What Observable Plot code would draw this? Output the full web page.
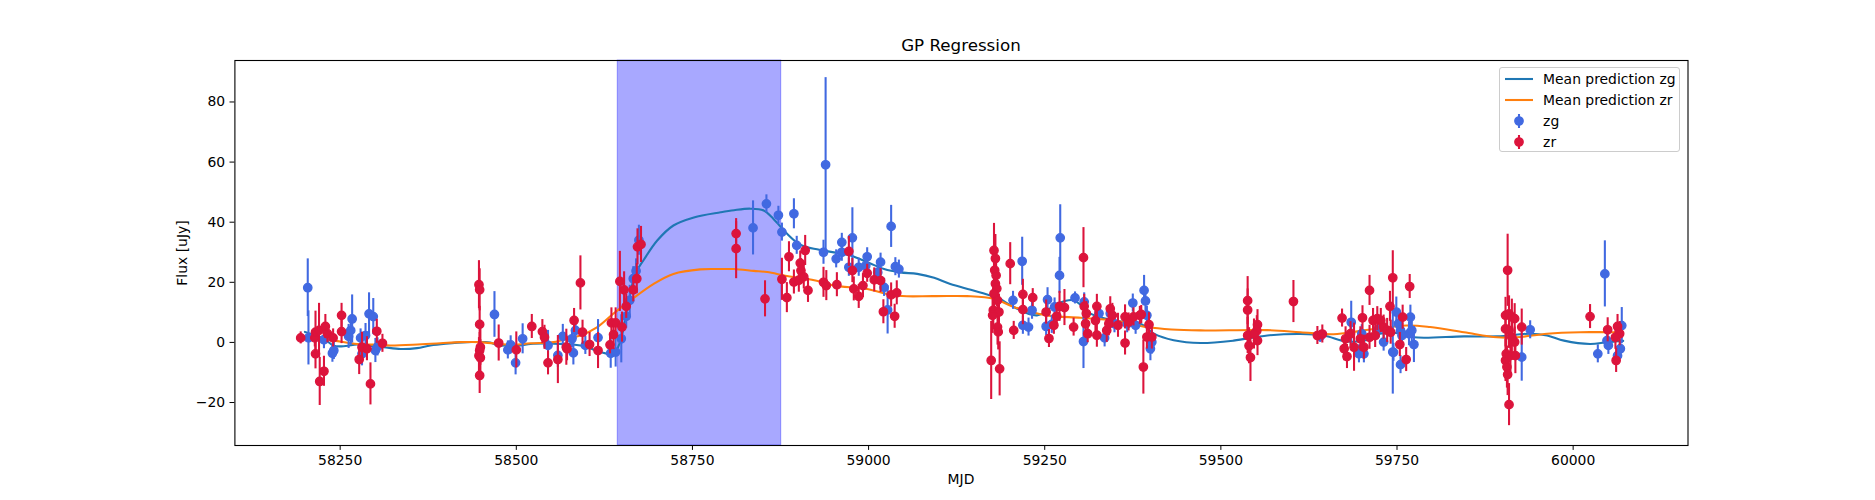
<!DOCTYPE html>
<html>
<head>
<meta charset="utf-8">
<script src="https://cdn.jsdelivr.net/npm/d3@7"></script>
<script src="https://cdn.jsdelivr.net/npm/@observablehq/plot@0.6"></script>
<style>
  body { margin: 0; background: #fff; }
  #wrap { position: relative; width: 1875px; height: 500px; font-family: "DejaVu Sans", sans-serif; color: #000; }
  #wrap svg { display: block; }
  .title { position: absolute; left: 234.4px; width: 1453.1px; top: 35px; line-height: 20px; text-align: center; font-size: 16.7px; }
  .xlabel { position: absolute; left: 234.4px; width: 1453.1px; top: 471px; line-height: 17px; text-align: center; font-size: 13.9px; }
  .ylabel { position: absolute; left: 181.8px; top: 252.5px; font-size: 13.9px; line-height: 17px; white-space: nowrap; transform: translate(-50%, -50%) rotate(-90deg); }
  .legend { position: absolute; left: 1498.6px; top: 67px; width: 181px; height: 85px; box-sizing: border-box; border: 1px solid #cccccc; border-radius: 3px; background: rgba(255,255,255,0.8); font-size: 13.9px; }
  .legend .row { position: absolute; left: 0; height: 18px; line-height: 18px; }
  .legend .row svg { position: absolute; left: 4px; top: -3px; }
  .legend .row span { position: absolute; left: 43.5px; white-space: nowrap; }
</style>
</head>
<body>
<div id="wrap"></div>
<script>
// ---- data ----
const xTicks = [58250, 58500, 58750, 59000, 59250, 59500, 59750, 60000];
const yTicks = [-20, 0, 20, 40, 60, 80];
const spanMJD = [58644, 58876];

const zgMJD = [58204,58205,58227,58241,58239,58262,58265,58267,58279,58286,58291,58297,58300,58303,58281,
  58469,58492,58488,58499,58509,58545,58559,58566,58579,58581,58584,58598,58616,58634,58641,58649,58656,58661,58666,58670,58674,
  58836,58855,58872,58877,58894,58898,
  58939,58936,58954,58962,58962,58977,58972,58986,58996,58998,59013,59017,59022,59027,59032,59038,59043,
  59205,59218,59219,59227,59232,59254,59252,59260,59264,59272,59271,59293,59306,59305,59327,59335,59343,59349,59375,59367,59379,59391,59393,59395,59400,59402,
  59641,59685,59696,59703,59700,59724,59731,59744,59749,59752,59755,59755,59745,59769,59767,59771,59774,59757,
  59927,59939,60035,60045,60048,60050,60069,60067,60063];
const zgFlux = [18.2,1.5,0.9,-2.7,-3.6,2.0,4.0,7.8,1.5,2.3,9.5,8.6,-2.7,-1.5,-3.8,
  9.3,-0.8,-2.5,-6.8,1.2,-1.0,-4.3,2.0,1.2,-3.5,4.0,-1.0,1.6,-3.6,-3.2,1.2,8.7,14.0,21.2,23.8,34.0,
  38.1,46.1,42.3,36.7,42.8,32.3,
  59.1,30.0,27.8,33.3,30.0,34.8,25.0,25.0,25.5,28.5,23.3,26.7,18.3,10.8,38.6,25.2,24.4,
  14.0,27.0,5.7,5.1,10.7,14.2,5.3,6.0,11.8,34.8,22.3,14.8,13.5,0.3,9.6,1.5,9.6,6.2,13.1,6.2,5.7,17.3,13.8,9.0,-2.1,0.1,
  2.0,6.7,-3.8,-3.8,2.9,4.5,0.1,-3.2,10.1,6.2,4.0,-7.4,-3.3,8.4,2.9,4.0,-0.7,2.3,
  -4.9,4.2,-3.8,22.8,0.6,-1.0,5.6,-2.1,-4.4];
const zgErr = [9.6,9,3,3,3,4,5,8,3,4,7,6,4,3,4,
  7.6,3,3,4,5,5,4,4,3,4,3,3,6,5,5,8,4,5,4,4,5,
  9,3,3,3,5,3,
  29,4,3,3,3,10,3,3,3,3,3,3,3,8,7,3,3,
  3,8,3,3,3,4,3,3,3,11,6,2,3,9,3,3,3,3,3,3,3,5,4,3,4,4,
  2,7,3,3,3,3,3,14,5,3,3,3,3,4,4,4,6,3,
  8,3,3,11,3,3,6,3,3];

const zrMJD = [58194,58214,58215,58215,58220,58221,58227,58229,58232,58240,58252,58252,58277,58281,58288,58293,58302,58310,
  58447,58448,58448,58449,58448,58447,58449,58448,
  58475,58500,58522,58537,58540,58545,58559,58571,58572,58582,58591,58594,58604,58616,58633,58635,58641,58638,58650,58656,58647,58653,58666,58671,58672,58677,
  58812,58812,58853,58877,58884,58887,58894,58901,58903,58904,58908,58910,58914,
  58936,58940,58955,58972,58977,58979,58986,58992,58998,59008,59017,59021,59032,59037,59040,
  59174,59178,59180,59179,59181,59180,59182,59178,59183,59177,59185,59176,59183,59184,59186,
  59201,59206,59219,59219,59233,59252,59256,59263,59267,59271,59278,59291,59305,59306,59309,59308,59311,59324,59322,59324,59338,59343,59346,59341,59354,59364,59364,59369,59376,59385,59387,59390,59398,59395,59402,
  59538,59538,59538,59540,59542,59552,59551,59552,59547,59603,59637,59644,
  59672,59677,59675,59679,59684,59689,59698,59703,59701,59711,59716,59722,59727,59731,59736,59741,59711,59719,59744,59740,59754,59763,59758,59768,
  59904,59907,59909,59913,59917,59904,59909,59905,59904,59906,59907,59911,59918,59909,59917,59913,59927,
  60024,60049,60063,60066,60060,60061];
const zrFlux = [1.5,1.5,3.4,-3.8,4.0,-13.0,-9.6,5.3,2.9,1.5,9.0,3.6,-5.7,-1.6,-2.1,-13.8,3.7,-0.3,
  19.2,17.5,6.0,-1.6,-2.7,-4.4,-5.1,-11.0,
  -0.2,-2.5,5.3,3.6,1.7,-6.8,-5.7,-1.6,-2.1,7.3,19.8,3.4,-0.7,-2.7,-0.8,6.5,6.5,2.6,5.1,12.0,20.3,17.5,17.5,21.2,31.8,32.6,
  36.2,31.2,14.5,21.0,14.9,28.5,20.1,20.7,26.4,23.9,21.8,30.6,17.3,
  20.0,18.9,19.2,30.3,23.9,17.8,15.3,18.9,23.0,20.8,20.6,10.2,15.8,8.7,16.5,
  -6.0,30.6,27.9,24.0,22.3,19.5,17.9,16.2,14.0,10.7,10.1,9.0,5.1,3.5,-8.8,
  26.2,4.0,16.0,10.9,14.9,10.1,1.3,5.7,8.7,12.0,11.6,5.1,28.2,12.0,9.6,6.2,2.9,12.0,7.3,2.4,4.0,11.2,9.0,6.2,5.7,-0.2,8.5,6.8,8.5,9.0,9.3,-8.2,5.9,1.8,1.8,
  13.9,10.8,2.3,-1.1,-5.0,5.9,3.9,0.6,2.8,13.6,2.3,2.8,
  8.1,1.2,-2.1,-4.7,2.9,-1.6,1.2,-1.6,8.2,17.3,7.3,7.9,7.3,5.1,4.0,3.4,1.7,2.3,21.5,12.0,-0.7,-5.7,8.4,18.6,
  9.0,24.0,9.5,8.4,7.9,4.5,4.0,-3.8,-6.0,-8.2,-10.7,-4.4,-4.4,-20.7,0.1,1.7,5.1,
  8.6,4.2,5.3,2.9,1.7,-6.0];
const zrErr = [2,3,7,5,9,8,5,4,3,3,4,4,5,5,4,7,4,3,
  8,7,6,6,6,6,6,6,
  6,6,4,4,4,4,8,6,4,4,9,4,4,6,3,5,5,5,5,4,10,6,4,5,6,6,
  4,10,6,7,5,5,4,4,4,4,4,5,4,
  5,5,4,5,4,4,4,4,3,4,4,4,4,4,4,
  13,9,8,8,7,7,6,6,6,6,6,6,6,6,9,
  7,3,5,5,3,4,3,3,3,5,6,3,10,4,4,4,3,4,4,4,4,4,4,4,4,4,4,3,3,3,3,9,4,4,4,
  8,7,6,6,8,5,5,5,5,7,3,3,
  3,4,4,4,4,8,4,4,4,5,4,4,4,4,4,4,4,4,9,5,4,4,4,4,
  6,12,6,6,5,6,6,7,7,7,7,6,6,7,5,5,6,
  4,4,4,4,4,4];

const zgCurveMJD = [58200,58227,58241,58258,58274,58295,58312,58336,58359,58378,58400,58430,58449,58463,58473,58490,58506,58520,58553,58580,58600,58619,58638,58648,58657,58669,58681,58700,58723,58752,58790,58809,58832,58851,58865,58884,58903,58930,58974,59000,59022,59045,59069,59093,59116,59145,59173,59182,59206,59239,59268,59291,59315,59348,59386,59405,59433,59471,59518,59566,59613,59646,59679,59708,59726,59755,59774,59845,59892,59939,59963,59987,60024,60048,60071];
const zgCurveFlux = [3.5,1.2,-1.1,-1.2,-0.7,-1.2,-1.6,-2.2,-1.9,-1.0,-0.4,0.1,0.1,0.0,-1.0,-1.0,-1.0,-0.5,-0.4,-0.7,-1.5,-3.2,-3.8,0.7,10.7,22.9,27.5,33.9,38.9,41.6,43.3,44.0,44.5,43.9,41.1,36.2,32.5,30.8,28.9,26.5,24.4,23.3,22.8,21.5,19.4,17.5,15.6,15.1,11.8,9.0,12.9,14.0,9.6,7.3,6.2,2.9,0.7,-0.2,0.6,2.3,2.8,2.3,0.3,0.8,2.9,3.0,1.7,2.0,2.0,2.9,2.3,0.6,-0.5,0.1,0.5];
const zrCurveMJD = [58200,58217,58241,58274,58307,58321,58360,58392,58420,58449,58475,58497,58520,58553,58577,58591,58615,58638,58662,58695,58723,58761,58790,58809,58837,58856,58884,58903,58932,58951,58998,59036,59093,59140,59178,59206,59253,59301,59348,59395,59430,59471,59566,59613,59660,59703,59764,59797,59845,59892,59920,59963,60010,60048,60071];
const zrCurveFlux = [1.5,1.2,0.6,-0.5,-0.8,-1.0,-0.7,-0.3,0.1,0.1,-0.5,-0.8,-0.3,0.1,1.5,2.3,5.1,9.6,14.0,19.5,22.8,24.3,24.4,24.4,23.8,23.4,22.1,21.5,20.2,18.9,17.8,15.6,15.4,15.4,14.5,11.8,9.0,8.2,7.3,5.1,4.3,4.0,4.1,3.4,2.7,4.0,5.6,5.1,3.4,1.7,1.7,2.9,3.4,3.4,3.4];

// ---- build tables ----
const toPts = (m, f, e) => d3.range(Math.min(m.length, f.length, e ? e.length : Infinity)).map(i => ({mjd: m[i], flux: f[i], err: e ? e[i] : 0}));
const zg = toPts(zgMJD, zgFlux, zgErr);
const zr = toPts(zrMJD, zrFlux, zrErr);
const zgCurve = toPts(zgCurveMJD, zgCurveFlux);
const zrCurve = toPts(zrCurveMJD, zrCurveFlux);
const span = [{x1: spanMJD[0], x2: spanMJD[1]}];

const cG = "royalblue", cR = "crimson", lG = "#1f77b4", lR = "#ff7f0e";

const chart = Plot.plot({
  width: 1875, height: 500,
  marginLeft: 234.4, marginRight: 187.5, marginTop: 60, marginBottom: 55,
  style: {fontFamily: "'DejaVu Sans', sans-serif", fontSize: "13.9px", color: "black", background: "white"},
  x: {domain: [58100.6, 60163], ticks: xTicks, tickFormat: d3.format("d"), tickSize: 4.9, tickPadding: 4.9, label: null},
  y: {domain: [-34.3, 93.8], ticks: yTicks, tickFormat: d3.format("d"), tickSize: 4.9, tickPadding: 4.9, label: null},
  marks: [
    Plot.rect(span, {x1: "x1", x2: "x2", fill: "blue", fillOpacity: 0.34, stroke: "blue", strokeOpacity: 0.34, strokeWidth: 1}),
    Plot.line(zgCurve, {x: "mjd", y: "flux", stroke: lG, strokeWidth: 2.08, curve: "catmull-rom"}),
    Plot.line(zrCurve, {x: "mjd", y: "flux", stroke: lR, strokeWidth: 2.08, curve: "catmull-rom"}),
    Plot.ruleX(zg, {x: "mjd", y1: d => d.flux - d.err, y2: d => d.flux + d.err, stroke: cG, strokeWidth: 2.08}),
    Plot.dot(zg, {x: "mjd", y: "flux", r: 4.17, fill: cG, stroke: cG, strokeWidth: 1.39}),
    Plot.ruleX(zr, {x: "mjd", y1: d => d.flux - d.err, y2: d => d.flux + d.err, stroke: cR, strokeWidth: 2.08}),
    Plot.dot(zr, {x: "mjd", y: "flux", r: 4.17, fill: cR, stroke: cR, strokeWidth: 1.39}),
    Plot.frame({stroke: "black", strokeWidth: 1.1})
  ]
});

const wrap = document.getElementById("wrap");
wrap.appendChild(chart);

const add = (cls, text) => { const d = document.createElement("div"); d.className = cls; d.textContent = text; wrap.appendChild(d); return d; };
add("title", "GP Regression");
add("xlabel", "MJD");
add("ylabel", "Flux [uJy]");

// legend
const legendItems = [
  {label: "Mean prediction zg", kind: "line", color: lG},
  {label: "Mean prediction zr", kind: "line", color: lR},
  {label: "zg", kind: "err", color: cG},
  {label: "zr", kind: "err", color: cR}
];
const leg = document.createElement("div");
leg.className = "legend";
legendItems.forEach((it, i) => {
  const row = document.createElement("div");
  row.className = "row";
  row.style.top = (1.7 + i * 21.2) + "px";
  const s = d3.create("svg").attr("width", 36).attr("height", 24);
  if (it.kind === "line") {
    s.append("line").attr("x1", 1).attr("x2", 29).attr("y1", 12).attr("y2", 12).attr("stroke", it.color).attr("stroke-width", 2.08);
  } else {
    s.append("line").attr("x1", 15).attr("x2", 15).attr("y1", 5).attr("y2", 19).attr("stroke", it.color).attr("stroke-width", 2.08);
    s.append("circle").attr("cx", 15).attr("cy", 12).attr("r", 4.17).attr("fill", it.color).attr("stroke", it.color).attr("stroke-width", 1.39);
  }
  row.appendChild(s.node());
  const t = document.createElement("span");
  t.textContent = it.label;
  row.appendChild(t);
  leg.appendChild(row);
});
wrap.appendChild(leg);
</script>
</body>
</html>
